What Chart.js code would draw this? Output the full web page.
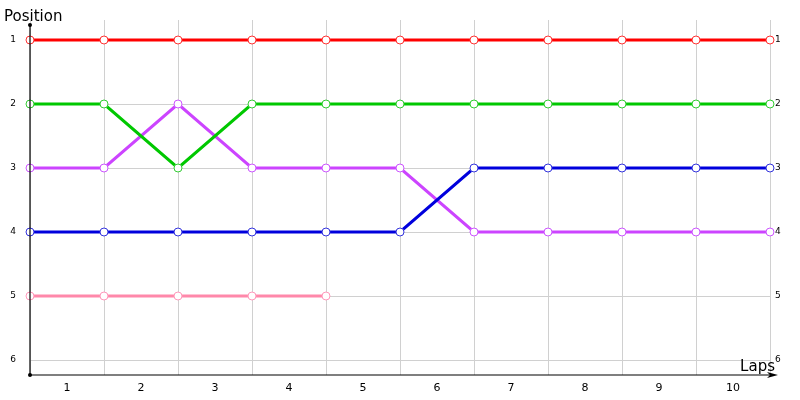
<!DOCTYPE html>
<html>
<head>
<meta charset="utf-8">
<script src="https://cdn.jsdelivr.net/npm/chart.js@4/dist/chart.umd.min.js"></script>
<style>
  html, body { margin: 0; padding: 0; background: #fff; }
  #wrap { width: 800px; height: 400px; }
</style>
</head>
<body>
<div id="wrap"><canvas id="lapChart" width="800" height="400"></canvas></div>
<script>
// lap points sit on the grid lines, lap labels sit between them
const lapPoints = [0, 1, 2, 3, 4, 5, 6, 7, 8, 9, 10];
const lapLabels = ['1', '2', '3', '4', '5', '6', '7', '8', '9', '10'];
const positionTicks = [1, 2, 3, 4, 5, 6];

const redPos     = [1, 1, 1, 1, 1, 1, 1, 1, 1, 1, 1];
const greenPos   = [2, 2, 3, 2, 2, 2, 2, 2, 2, 2, 2];
const purplePos  = [3, 3, 2, 3, 3, 3, 4, 4, 4, 4, 4];
const bluePos    = [4, 4, 4, 4, 4, 4, 3, 3, 3, 3, 3];
const pinkPos    = [5, 5, 5, 5, 5];

const FONT = 'DejaVu Sans';

function toXY(arr) {
    return arr.map((v, i) => ({ x: lapPoints[i], y: v }));
}

function line(label, data, color, pointColor) {
    return {
        label: label,
        data: toXY(data),
        borderColor: color,
        borderWidth: 3,
        pointRadius: 4,
        pointBorderWidth: 1,
        pointBackgroundColor: '#fff',
        pointBorderColor: pointColor,
        tension: 0,
        clip: false
    };
}

// axis lines, end dots, arrow and the two axis captions
const axisDecor = {
    id: 'axisDecor',
    afterDraw(chart) {
        const ctx = chart.ctx;
        const a = chart.chartArea;
        const x0 = a.left, y0 = a.bottom;
        ctx.save();
        ctx.strokeStyle = '#000';
        ctx.fillStyle = '#000';
        ctx.lineWidth = 1.2;
        ctx.beginPath();
        ctx.moveTo(x0, 25);
        ctx.lineTo(x0, y0);
        ctx.lineTo(a.right + 4, y0);
        ctx.stroke();
        // arrow
        ctx.beginPath();
        ctx.moveTo(a.right + 8, y0);
        ctx.lineTo(a.right - 3, y0 - 3);
        ctx.lineTo(a.right, y0);
        ctx.lineTo(a.right - 3, y0 + 3);
        ctx.closePath();
        ctx.fill();
        // dots
        ctx.beginPath(); ctx.arc(x0, 25, 2, 0, Math.PI * 2); ctx.fill();
        ctx.beginPath(); ctx.arc(x0, y0, 2, 0, Math.PI * 2); ctx.fill();
        // captions
        ctx.font = '15px "' + FONT + '"';
        ctx.textBaseline = 'alphabetic';
        ctx.textAlign = 'left';
        ctx.fillText('Position', 4, 21);
        ctx.textAlign = 'right';
        ctx.fillText('Laps', a.right + 5, y0 - 4);
        ctx.restore();
    }
};

const yRange = { min: 1 - 20 / 64, max: 6 + 15 / 64 };
const setPosTicks = s => { s.ticks = positionTicks.map(v => ({ value: v })); };

const ctx = document.getElementById('lapChart').getContext('2d');
const lapChart = new Chart(ctx, {
    type: 'line',
    data: {
        datasets: [
            line('Pink', pinkPos, '#ff88aa', '#ff99bb'),
            line('Green', greenPos, '#00c800', '#33cc33'),
            line('Blue', bluePos, '#0000dd', '#3333dd'),
            line('Purple', purplePos, '#cc44ff', '#cc55ff'),
            line('Red', redPos, '#ff0000', '#ff3333')
        ]
    },
    options: {
        responsive: false,
        animation: false,
        layout: { padding: { top: 20, left: 0, right: 0, bottom: 0 } },
        plugins: { legend: { display: false }, tooltip: { enabled: false } },
        scales: {
            x: {
                type: 'linear',
                position: 'bottom',
                min: 0,
                max: 10,
                afterBuildTicks: s => { s.ticks = lapPoints.map(v => ({ value: v })); },
                afterFit: s => { s.height = 0; },
                ticks: { display: false },
                grid: { color: '#d0d0d0', drawTicks: false },
                border: { display: false }
            },
            x2: {
                type: 'category',
                position: 'bottom',
                labels: lapLabels,
                offset: true,
                afterFit: s => { s.height = 25; },
                grid: { display: false, drawTicks: false },
                border: { display: false },
                ticks: { color: '#000', padding: 7, font: { family: FONT, size: 11 } }
            },
            y: {
                type: 'linear',
                position: 'left',
                reverse: true,
                min: yRange.min,
                max: yRange.max,
                afterBuildTicks: setPosTicks,
                afterFit: s => { s.width = 30; },
                grid: { color: '#d0d0d0', drawTicks: false },
                border: { display: false },
                ticks: { color: '#000', padding: 14, font: { family: FONT, size: 9 } }
            },
            y2: {
                type: 'linear',
                position: 'right',
                reverse: true,
                min: yRange.min,
                max: yRange.max,
                afterBuildTicks: setPosTicks,
                afterFit: s => { s.width = 30; },
                grid: { display: false, drawTicks: false },
                border: { display: false },
                ticks: { color: '#000', padding: 5, font: { family: FONT, size: 9 } }
            }
        }
    },
    plugins: [axisDecor]
});
</script>
</body>
</html>
